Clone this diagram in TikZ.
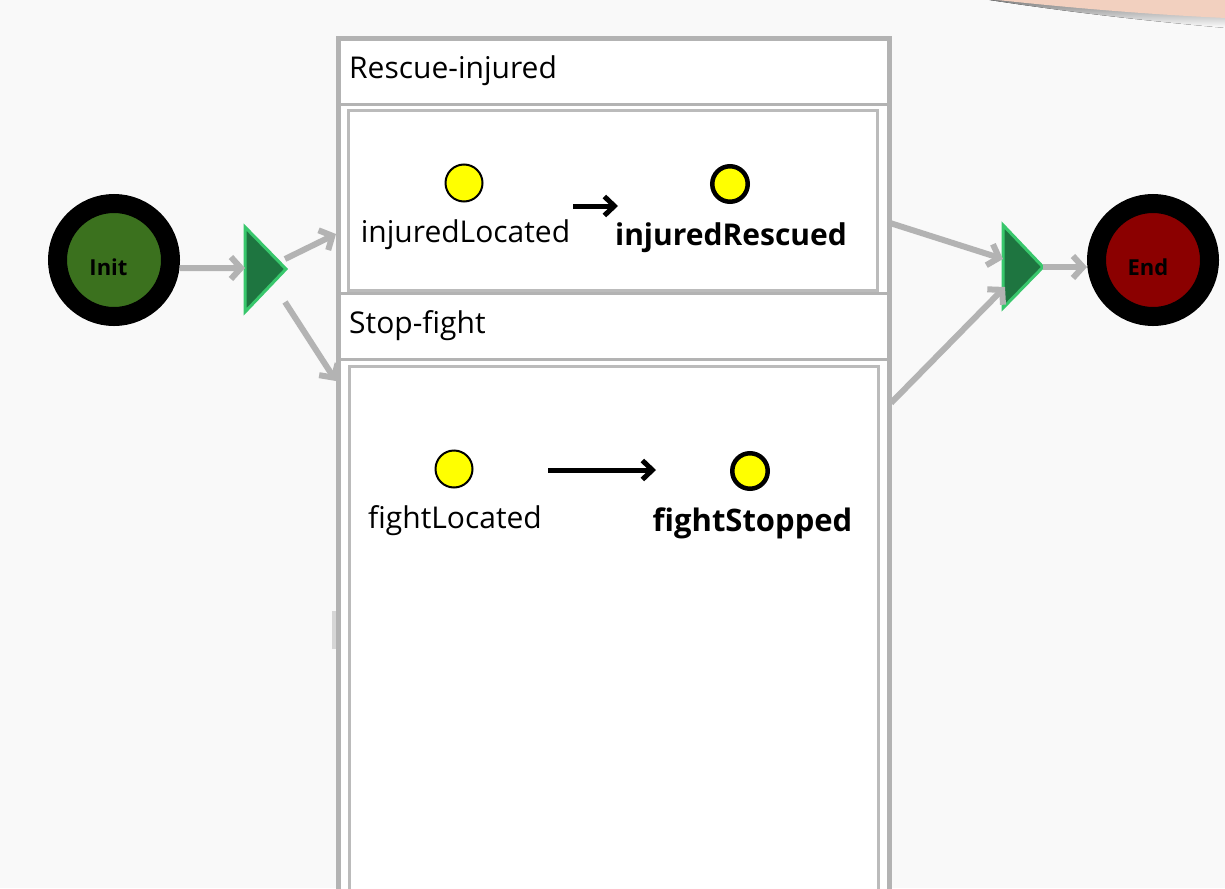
\documentclass[tikz,border=0pt]{standalone}
\usepackage{fontspec}
\setmainfont{Open Sans}
\usetikzlibrary{arrows.meta,calc}

\definecolor{pagebg}{HTML}{F9F9F9}
\definecolor{framegrey}{HTML}{B3B3B3}
\definecolor{boxgrey}{HTML}{BBBBBB}
\definecolor{initgreen}{HTML}{3B711E}
\definecolor{endred}{HTML}{8B0000}
\definecolor{gwfill}{HTML}{1E7540}
\definecolor{gwedge}{HTML}{38C76C}
\definecolor{evyellow}{HTML}{FFFF00}
\definecolor{peach}{HTML}{F2D0BF}
\definecolor{shade}{HTML}{D4D4D4}
\definecolor{tabgrey}{HTML}{D6D6D6}

\newcommand{\lanefont}{\fontsize{30}{35}\selectfont}
\newcommand{\eventbold}{\fontsize{30}{35}\selectfont\bfseries}
\newcommand{\termfont}{\fontsize{22}{26}\selectfont\bfseries}

\tikzset{
  flow/.style={draw=framegrey, line width=6pt, line cap=butt,
    -{Straight Barb[length=10pt,width=22pt,line width=6pt]}},
  seqarrow/.style={draw=black, line width=5pt,
    -{Straight Barb[length=10pt,width=19pt,line width=5pt]}},
  terminal/.style={circle, draw=black, line width=19pt, minimum size=113pt, inner sep=0pt},
  evstart/.style={circle, draw=black, fill=evyellow, line width=2pt, minimum size=37pt, inner sep=0pt},
  evend/.style={circle, draw=black, fill=evyellow, line width=4.5pt, minimum size=35.5pt, inner sep=0pt},
  gateway/.style={fill=gwfill, draw=gwedge, line width=3pt, line join=miter},
  lanebox/.style={draw=boxgrey, line width=3pt, fill=white},
  label/.style={inner sep=0pt, font=\lanefont, text=black},
}

\begin{document}
\begin{tikzpicture}[x=1pt,y=-1pt]
  \useasboundingbox (0,0) rectangle (1225,888);
  \clip (0,0) rectangle (1225,888);
  \fill[pagebg] (0,0) rectangle (1225,888);

  % decorative swoosh in the top right corner
  \fill[shade] (983,-1) .. controls (1080,14) and (1160,22) .. (1226,28) -- (1226,-1) -- cycle;
  \fill[peach] (988,-1) .. controls (1080,9) and (1160,15) .. (1226,18) -- (1226,-1) -- cycle;

  % pool frame
  \fill[white] (338,39) rectangle (889,900);
  \fill[tabgrey] (332,611) rectangle (336,649);

  % Rescue-injured lane
  \draw[framegrey, line width=3pt] (338,105) -- (889,105);
  \node[lanebox, minimum width=529pt, minimum height=179pt, inner sep=0pt] (rescue) at (612.5,200.5) {};
  \node[label, anchor=base west] (rescuettl) at (349,79) {Rescue-injured};

  % Stop-fight lane
  \draw[framegrey, line width=3pt] (338,293) -- (889,293);
  \draw[framegrey, line width=3pt] (338,359) -- (889,359);
  \node[lanebox, minimum width=529pt, minimum height=560pt, inner sep=0pt, anchor=north west] (stop) at (348,365) {};
  \node[label, anchor=base west] (stopttl) at (349,333) {Stop-fight};

  % outer border of the pool
  \draw[framegrey, line width=5pt] (338,900) -- (338,39) -- (889,39) -- (889,900);

  % events inside the lanes
  \node[evstart] (injLoc) at (464,183) {};
  \node[label, anchor=base] (injLocT) at (465.5,242) {injuredLocated};
  \node[evend] (injRes) at (730,184) {};
  \node[label, anchor=base, font=\eventbold] (injResT) at (731,245) {injuredRescued};
  \coordinate (ia) at (573,206);
  \coordinate (ib) at (618,206);
  \draw[seqarrow] (ia) -- (ib);

  \node[evstart] (figLoc) at (454,469) {};
  \node[label, anchor=base] (figLocT) at (455,528) {fightLocated};
  \node[evend] (figStp) at (750,471) {};
  \node[label, anchor=base, font={\fontsize{31}{36}\selectfont\bfseries}] (figStpT) at (752.5,531) {fightStopped};
  \coordinate (fa) at (548,470);
  \coordinate (fb) at (656,470);
  \draw[seqarrow] (fa) -- (fb);

  % start and end terminals
  \node[terminal, fill=initgreen] (init) at (114,260) {};
  \node[inner sep=0pt, font=\termfont, anchor=base] (initT) at (108.5,275) {Init};
  \node[terminal, fill=endred] (end) at (1153,260) {};
  \node[inner sep=0pt, font=\termfont, anchor=base] (endT) at (1148,275) {End};

  % split gateway
  \draw[gateway] (245,227) -- (286,269) -- (245,312) -- cycle;
  \coordinate (g1in) at (245,268);
  \coordinate (g1up) at (285,259);
  \coordinate (g1dn) at (285,302);

  % join gateway
  \draw[gateway] (1003,225) -- (1043,267) -- (1003,308) -- cycle;
  \coordinate (g2up) at (1003,259);
  \coordinate (g2dn) at (1005,287);
  \coordinate (g2out) at (1043,267);

  % lane entry and exit points
  \coordinate (r1in) at (336,234);
  \coordinate (r2in) at (336,381);
  \coordinate (r1out) at (890,223);
  \coordinate (r2out) at (891,403);

  % sequence flows
  \draw[flow] (init.-7) -- (g1in);
  \draw[flow] (g1up) -- (r1in);
  \draw[flow] (g1dn) -- (r2in);
  \draw[flow] (r1out) -- (g2up);
  \draw[flow] (r2out) -- (g2dn);
  \draw[flow] (g2out) -- (g2out -| end.west);
\end{tikzpicture}
\end{document}
